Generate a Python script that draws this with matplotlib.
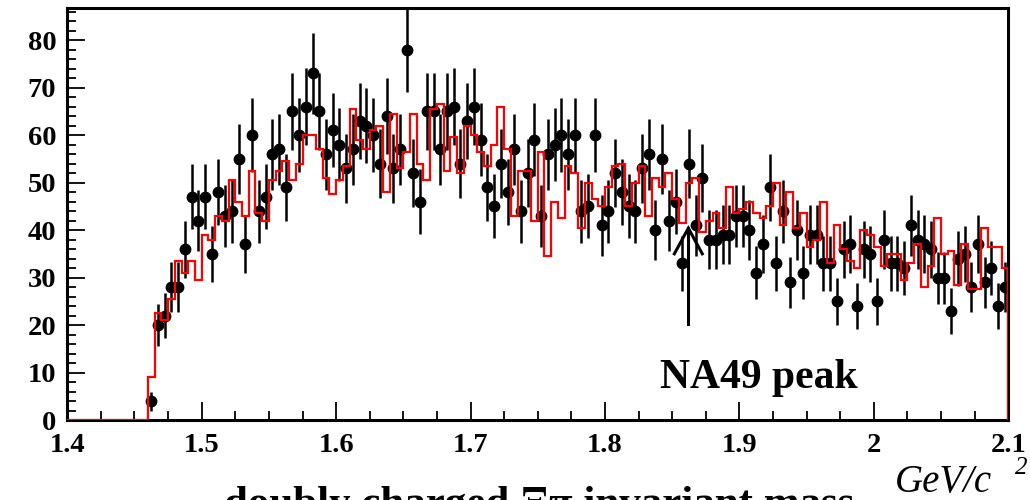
import numpy as np
import matplotlib
matplotlib.use('Agg')
import matplotlib.pyplot as plt
from matplotlib.ticker import MultipleLocator, FuncFormatter

plt.rcParams['font.family'] = ['Liberation Serif', 'DejaVu Serif']

# binning: 0.005 GeV bins from 1.40 to 2.10, data start at 1.46
x_lo, x_hi, bin_w = 1.40, 2.10, 0.005
first_bin = 1.46

# measured counts per bin (1.460 .. 2.100)
counts = [4, 20, 22, 28, 28, 36, 47, 42, 47, 35, 48, 43, 44, 55, 37, 60,
          44, 47, 56, 57, 49, 65, 60, 66, 73, 65, 56, 61, 58, 53, 57, 63,
          62, 60, 54, 64, 53, 57, 78, 52, 46, 65, 65, 57, 65, 66, 54, 63,
          66, 59, 49, 45, 54, 48, 57, 44, 52, 59, 43, 56, 58, 60, 56, 60,
          44, 45, 60, 41, 44, 52, 48, 45, 44, 53, 56, 40, 55, 42, 46, 33,
          54, 41, 51, 38, 38, 39, 39, 43, 43, 40, 31, 37, 49, 33, 44, 29,
          40, 31, 39, 39, 33, 33, 25, 36, 37, 24, 36, 35, 25, 38, 33, 33,
          32, 41, 38, 37, 36, 30, 30, 23, 34, 35, 28, 37, 29, 32, 24, 28]

# background histogram (red), same bins
background = [9, 22.5, 21, 25.5, 33.5, 31, 33.5, 29.5, 39, 38, 43, 42, 50.5, 46, 43, 52.5,
              43.5, 42, 50.5, 52.5, 54.5, 50.5, 54, 60, 60, 57, 51, 47.5, 50.5, 53.5, 65.5, 59,
              57, 61, 62, 48, 64.5, 53, 56.5, 64.5, 54, 50.5, 65.5, 66.5, 52.5, 59.5, 52, 62,
              60, 56.5, 53.5, 58, 66, 57, 43, 52.5, 52.5, 42, 56.5, 34.5, 46, 42.5, 53.5, 52,
              40.5, 50, 46.5, 45, 49, 53.5, 54, 45, 50, 53.5, 43, 51, 49, 52, 46.5, 41.5,
              50, 51, 39.5, 42, 43.5, 40.5, 49, 43.5, 44.5, 46, 43.5, 42.5, 45, 50, 41, 48,
              40.5, 43.5, 36.5, 38, 46, 33, 41, 36, 33.5, 32, 40, 39, 36.5, 32.5, 35, 35,
              29.5, 33, 37, 28, 32.5, 42.5, 35, 35.5, 28.5, 37, 27.5, 27.5, 40.5, 36.5, 36.5, 32]

na49_mass = 1.862

n_bins = int(round((x_hi - x_lo) / bin_w))
edges = x_lo + bin_w * np.arange(n_bins + 1)
n_empty = int(round((first_bin - x_lo) / bin_w))
red_full = np.concatenate([np.zeros(n_empty), background])
counts = np.array(counts, dtype=float)
centers = first_bin + bin_w * (np.arange(len(counts)) + 0.5)

fig = plt.figure(figsize=(10.3, 5), dpi=100)
ax = fig.add_axes([0.0653, 0.16, 0.9136, 0.8233])

ax.errorbar(centers, counts, yerr=np.sqrt(counts), fmt='o', color='black',
            ms=7.5, elinewidth=1.8, capsize=0, zorder=3)
ax.stairs(red_full, edges, baseline=0, color='red', lw=1.6, zorder=4)

# arrow marking the NA49 peak position (open head)
ax.plot([na49_mass, na49_mass], [20.2, 40.4], color='black', lw=2.2, zorder=5)
ax.plot([na49_mass - 0.0104, na49_mass, na49_mass + 0.0104], [35.0, 40.4, 35.0],
        color='black', lw=2.2, solid_joinstyle='miter', zorder=5)
ax.text(1.841, 6.7, 'NA49 peak', fontsize=30, fontweight='bold')

ax.set_xlim(x_lo, x_hi)
ax.set_ylim(0, 86.7)
ax.xaxis.set_major_locator(MultipleLocator(0.1))
ax.xaxis.set_minor_locator(MultipleLocator(0.025))
ax.yaxis.set_major_locator(MultipleLocator(10))
ax.yaxis.set_minor_locator(MultipleLocator(2))
ax.xaxis.set_major_formatter(FuncFormatter(lambda v, p: '%g' % round(v, 2)))
ax.tick_params(which='both', direction='in', top=False, right=False, width=1.3)
ax.tick_params(which='major', length=13)
ax.tick_params(which='minor', length=6.5)
ax.tick_params(axis='x', pad=9)
ax.tick_params(axis='y', pad=8)
for lab in ax.get_xticklabels() + ax.get_yticklabels():
    lab.set_fontsize(20.5)
    lab.set_fontweight('bold')
for sp in ax.spines.values():
    sp.set_linewidth(2.2)

fig.text(0.869, 0.016, 'GeV/c', fontsize=28, style='italic')
fig.text(0.985, 0.053, '2', fontsize=18, style='italic')
fig.text(0.523, 0.028, 'doubly charged \u039e\u03c0 invariant mass', fontsize=31,
         fontweight='bold', ha='center', va='top')

fig.savefig('out.png', dpi=100)
